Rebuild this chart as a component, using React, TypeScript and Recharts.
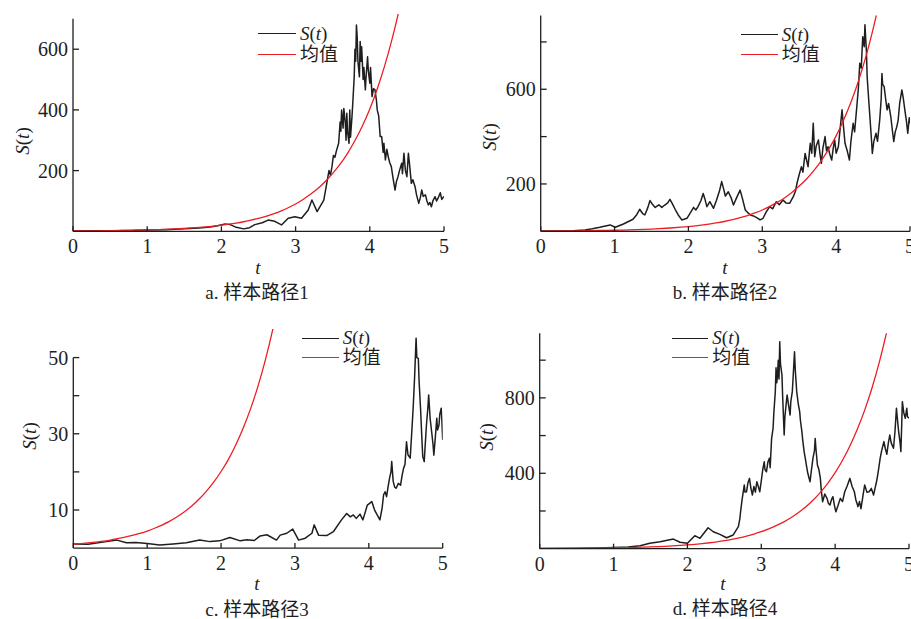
import { LineChart, Line, XAxis, YAxis, ReferenceLine } from 'recharts';

// mean E[S(t)] (same in all four panels)
const MEAN_T = [
  0, 0.1, 0.2, 0.3, 0.4, 0.5, 0.6, 0.7, 0.8, 0.9, 1.0, 1.1, 1.2, 1.3, 1.4, 1.5, 1.6, 1.7, 1.8, 1.9,
  2.0, 2.1, 2.2, 2.3, 2.4, 2.5, 2.6, 2.7, 2.8, 2.9, 3.0, 3.1, 3.2, 3.3, 3.4, 3.5, 3.6, 3.7, 3.8, 3.9,
  4.0, 4.1, 4.2, 4.3, 4.4, 4.5, 4.6, 4.7, 4.8,
];
const MEAN_S = [
  1.0, 1.16, 1.35, 1.57, 1.82, 2.12, 2.46, 2.86, 3.32, 3.86, 4.48, 5.21, 6.05, 7.03, 8.17, 9.49, 11.0, 12.8, 14.9, 17.3,
  20.1, 23.3, 27.1, 31.5, 36.6, 42.5, 49.4, 57.4, 66.7, 77.5, 90.0, 105, 122, 141, 164, 191, 221, 257, 299, 347,
  403, 469, 545, 633, 735, 854, 992, 1153, 1339,
];

// sample paths, [t, S(t)]
const PATH_1: [number, number][] = [
  [0, 1], [0.25, 1.5], [0.5, 2], [0.75, 3], [1.0, 4], [1.25, 5], [1.5, 8], [1.7, 11], [1.85, 14], [1.95, 18],
  [2.05, 24], [2.12, 22], [2.2, 13], [2.3, 8], [2.38, 12], [2.45, 22], [2.55, 28], [2.63, 37], [2.72, 33], [2.81, 21],
  [2.9, 43], [2.99, 48], [3.08, 43], [3.17, 70], [3.22, 103], [3.29, 65], [3.38, 103], [3.42, 158], [3.45, 200], [3.47, 185],
  [3.49, 213], [3.51, 250], [3.53, 244], [3.55, 265], [3.58, 290], [3.6, 360], [3.61, 330], [3.62, 400], [3.64, 340], [3.65, 405],
  [3.67, 356], [3.68, 300], [3.69, 389], [3.7, 330], [3.72, 290], [3.73, 400], [3.74, 310], [3.76, 378], [3.77, 420], [3.79, 509],
  [3.8, 600], [3.81, 560], [3.82, 680], [3.83, 640], [3.84, 560], [3.86, 509], [3.87, 625], [3.88, 560], [3.89, 608], [3.91, 500],
  [3.92, 540], [3.94, 466], [3.95, 510], [3.97, 575], [3.98, 530], [4.0, 488], [4.01, 540], [4.03, 444], [4.05, 470], [4.07, 466],
  [4.09, 430], [4.1, 400], [4.12, 380], [4.14, 312], [4.16, 312], [4.18, 260], [4.19, 290], [4.21, 235], [4.23, 270], [4.25, 244],
  [4.27, 225], [4.29, 213], [4.31, 180], [4.34, 136], [4.36, 165], [4.38, 180], [4.4, 200], [4.43, 224], [4.44, 190], [4.46, 257],
  [4.48, 200], [4.5, 180], [4.52, 257], [4.54, 210], [4.56, 158], [4.58, 170], [4.61, 147], [4.63, 120], [4.66, 92], [4.68, 110],
  [4.7, 136], [4.72, 115], [4.75, 120], [4.77, 100], [4.79, 87], [4.81, 95], [4.83, 81], [4.85, 100], [4.88, 114], [4.9, 100],
  [4.92, 109], [4.95, 127], [4.97, 105], [4.99, 112], [5.0, 115],
];

const PATH_2: [number, number][] = [
  [0, 1], [0.25, 1], [0.44, 2], [0.6, 6], [0.7, 11], [0.8, 17], [0.94, 27], [1.01, 17], [1.12, 31], [1.25, 51],
  [1.3, 70], [1.34, 93], [1.38, 75], [1.41, 69], [1.45, 100], [1.48, 130], [1.51, 115], [1.55, 101], [1.6, 112], [1.64, 101],
  [1.68, 111], [1.72, 120], [1.75, 135], [1.78, 118], [1.82, 93], [1.86, 70], [1.91, 48], [1.98, 55], [2.03, 80], [2.07, 101],
  [2.1, 90], [2.13, 104], [2.17, 130], [2.2, 160], [2.22, 140], [2.25, 104], [2.29, 125], [2.34, 97], [2.38, 131], [2.42, 170],
  [2.45, 210], [2.48, 175], [2.5, 149], [2.54, 167], [2.58, 140], [2.61, 111], [2.65, 140], [2.7, 174], [2.73, 140], [2.77, 90],
  [2.8, 80], [2.84, 69], [2.88, 65], [2.93, 57], [2.97, 48], [3.01, 55], [3.05, 80], [3.1, 104], [3.14, 95], [3.19, 125],
  [3.23, 112], [3.28, 132], [3.32, 120], [3.37, 118], [3.42, 146], [3.45, 170], [3.47, 203], [3.5, 240], [3.53, 273], [3.55, 250],
  [3.58, 329], [3.6, 300], [3.62, 273], [3.64, 340], [3.65, 372], [3.67, 330], [3.69, 456], [3.71, 315], [3.73, 360], [3.76, 386],
  [3.78, 330], [3.8, 287], [3.82, 350], [3.85, 400], [3.87, 340], [3.89, 357], [3.91, 330], [3.94, 301], [3.96, 350], [3.98, 386],
  [4.0, 330], [4.03, 357], [4.05, 420], [4.08, 513], [4.1, 440], [4.12, 372], [4.15, 340], [4.18, 301], [4.2, 380], [4.23, 456],
  [4.25, 420], [4.28, 527], [4.3, 600], [4.32, 710], [4.34, 690], [4.36, 822], [4.38, 780], [4.39, 872], [4.41, 760], [4.42, 653],
  [4.44, 560], [4.46, 470], [4.48, 380], [4.49, 329], [4.51, 380], [4.54, 414], [4.56, 380], [4.59, 470], [4.61, 560], [4.62, 667],
  [4.63, 620], [4.65, 611], [4.67, 560], [4.69, 513], [4.71, 540], [4.74, 484], [4.76, 430], [4.78, 379], [4.8, 420], [4.82, 440],
  [4.84, 470], [4.86, 540], [4.89, 597], [4.91, 560], [4.93, 513], [4.95, 470], [4.97, 414], [4.99, 480], [5.0, 456],
];

const PATH_3: [number, number][] = [
  [0, 1.1], [0.2, 1.0], [0.45, 1.7], [0.59, 2.1], [0.72, 1.4], [0.85, 1.5], [1.0, 1.2], [1.17, 0.8], [1.35, 1.1], [1.53, 1.4],
  [1.71, 2.1], [1.85, 1.7], [1.98, 1.9], [2.12, 2.8], [2.26, 1.9], [2.35, 2.2], [2.45, 2.0], [2.53, 3.2], [2.62, 3.5], [2.75, 2.1],
  [2.8, 3.4], [2.89, 3.9], [2.97, 5.0], [3.05, 2.1], [3.14, 2.6], [3.23, 3.9], [3.26, 6.1], [3.32, 3.4], [3.43, 3.3], [3.52, 4.3],
  [3.63, 7.4], [3.7, 9.1], [3.75, 8.2], [3.79, 8.7], [3.83, 7.8], [3.88, 8.9], [3.92, 7.4], [3.98, 11.3], [4.04, 12.2], [4.08, 9.9],
  [4.15, 7.4], [4.18, 10.5], [4.2, 14.0], [4.22, 14.8], [4.24, 13.5], [4.26, 16.0], [4.28, 18.3], [4.3, 20.0], [4.31, 22.7], [4.33, 17.5],
  [4.35, 16.0], [4.37, 15.7], [4.4, 17.0], [4.43, 16.5], [4.45, 19.0], [4.47, 20.9], [4.49, 22.0], [4.5, 25.0], [4.51, 27.9], [4.53, 24.5],
  [4.56, 23.6], [4.58, 30.0], [4.6, 36.7], [4.62, 45.0], [4.64, 55.1], [4.65, 50.0], [4.67, 49.8], [4.68, 44.0], [4.7, 36.7], [4.72, 28.0],
  [4.73, 24.0], [4.75, 22.7], [4.76, 26.0], [4.78, 32.3], [4.8, 37.0], [4.81, 40.2], [4.83, 34.0], [4.85, 30.6], [4.87, 27.0], [4.88, 24.4],
  [4.9, 29.0], [4.92, 34.1], [4.93, 31.0], [4.95, 32.3], [4.96, 35.0], [4.98, 36.7], [4.99, 33.0], [5.0, 28.4],
];

const PATH_4: [number, number][] = [
  [0, 1], [0.5, 2], [0.8, 4], [1.0, 6], [1.2, 9], [1.36, 16], [1.49, 29], [1.63, 37], [1.81, 51], [1.9, 34],
  [2.0, 29], [2.1, 69], [2.17, 55], [2.28, 111], [2.35, 90], [2.44, 76], [2.53, 58], [2.62, 73], [2.69, 117], [2.71, 160],
  [2.72, 196], [2.74, 260], [2.77, 338], [2.78, 300], [2.8, 302], [2.82, 350], [2.84, 373], [2.86, 320], [2.88, 285], [2.9, 330],
  [2.92, 300], [2.94, 355], [2.96, 330], [2.98, 302], [3.0, 360], [3.02, 420], [3.04, 461], [3.05, 420], [3.07, 408], [3.09, 460],
  [3.11, 480], [3.12, 430], [3.14, 585], [3.16, 640], [3.17, 720], [3.19, 833], [3.2, 960], [3.21, 880], [3.22, 921], [3.23, 1000],
  [3.24, 900], [3.25, 1098], [3.26, 980], [3.28, 921], [3.29, 800], [3.31, 603], [3.32, 700], [3.34, 780], [3.35, 815], [3.37, 760],
  [3.39, 709], [3.4, 780], [3.42, 833], [3.43, 900], [3.45, 1045], [3.46, 950], [3.48, 833], [3.5, 770], [3.52, 727], [3.53, 680],
  [3.55, 621], [3.56, 580], [3.58, 515], [3.6, 470], [3.61, 444], [3.63, 400], [3.66, 355], [3.68, 420], [3.7, 480], [3.72, 520],
  [3.73, 585], [3.74, 530], [3.76, 444], [3.78, 420], [3.8, 373], [3.81, 320], [3.83, 249], [3.86, 290], [3.89, 267], [3.91, 240],
  [3.93, 232], [3.95, 260], [3.97, 276], [3.99, 230], [4.01, 196], [4.04, 230], [4.07, 267], [4.1, 250], [4.13, 302], [4.16, 330],
  [4.2, 373], [4.23, 330], [4.26, 302], [4.28, 260], [4.31, 223], [4.33, 250], [4.35, 212], [4.38, 290], [4.4, 338], [4.43, 300],
  [4.46, 302], [4.49, 320], [4.52, 285], [4.54, 320], [4.56, 355], [4.58, 400], [4.61, 480], [4.63, 520], [4.66, 568], [4.68, 530],
  [4.7, 501], [4.72, 560], [4.74, 603], [4.76, 560], [4.79, 533], [4.81, 620], [4.83, 745], [4.84, 700], [4.86, 621], [4.88, 560],
  [4.89, 515], [4.9, 640], [4.91, 780], [4.93, 720], [4.95, 692], [4.97, 745], [4.98, 700], [5.0, 692],
];

const X_TICKS = [0, 1, 2, 3, 4, 5];

const INK = '#1e1e1e';
const RED = '#ee1d23';
const SERIF = '"Liberation Serif", "Times New Roman", "Noto Sans CJK SC", serif';
const AXIS_W = 1.3;

type Pt = { t: number; s: number };
const toPts = (pairs: [number, number][]): Pt[] => pairs.map(([t, s]) => ({ t, s }));
const meanPts: Pt[] = MEAN_T.map((t, i) => ({ t, s: MEAN_S[i] }));

type PanelSpec = {
  key: string;
  box: { left: number; top: number; width: number; height: number };
  plot: { x0: number; x1: number; yTop: number; yBottom: number };
  yMax: number;
  axisTop: number;
  yTicks: number[];
  yLabels: number[];
  path: Pt[];
  legend: { lineX: number; textX: number; y1: number; y2: number };
  yTitle: { x: number; y: number };
  xTitle: { x: number; y: number };
  caption: { x: number; y: number; text: string };
};

const PANELS: PanelSpec[] = [
  {
    key: 'a',
    box: { left: 0, top: 0, width: 455, height: 300 },
    plot: { x0: 73, x1: 444, yTop: 14, yBottom: 231.3 },
    yMax: 716,
    axisTop: 700,
    yTicks: [200, 400, 600],
    yLabels: [200, 400, 600],
    path: toPts(PATH_1),
    legend: { lineX: 258, textX: 300, y1: 34, y2: 55 },
    yTitle: { x: 22, y: 141 },
    xTitle: { x: 258, y: 267 },
    caption: { x: 257, y: 292, text: 'a. 样本路径1' },
  },
  {
    key: 'b',
    box: { left: 455, top: 0, width: 456, height: 300 },
    plot: { x0: 540.7, x1: 910, yTop: 15.4, yBottom: 231.3 },
    yMax: 912,
    axisTop: 912,
    yTicks: [200, 400, 600, 800],
    yLabels: [200, 600],
    path: toPts(PATH_2),
    legend: { lineX: 740.7, textX: 781.7, y1: 35, y2: 55 },
    yTitle: { x: 489, y: 137 },
    xTitle: { x: 725, y: 267 },
    caption: { x: 725, y: 292, text: 'b. 样本路径2' },
  },
  {
    key: 'c',
    box: { left: 0, top: 310, width: 455, height: 300 },
    plot: { x0: 73.3, x1: 442.7, yTop: 329, yBottom: 548.1 },
    yMax: 57.5,
    axisTop: 50,
    yTicks: [10, 20, 30, 40, 50],
    yLabels: [10, 30, 50],
    path: toPts(PATH_3),
    legend: { lineX: 301.7, textX: 342.7, y1: 338.3, y2: 357.7 },
    yTitle: { x: 29, y: 436 },
    xTitle: { x: 257, y: 583 },
    caption: { x: 257, y: 609, text: 'c. 样本路径3' },
  },
  {
    key: 'd',
    box: { left: 455, top: 310, width: 456, height: 300 },
    plot: { x0: 539.7, x1: 909, yTop: 333.2, yBottom: 548.7 },
    yMax: 1143,
    axisTop: 1143,
    yTicks: [200, 400, 600, 800, 1000],
    yLabels: [400, 800],
    path: toPts(PATH_4),
    legend: { lineX: 671.7, textX: 712.3, y1: 338.3, y2: 357.7 },
    yTitle: { x: 486, y: 437 },
    xTitle: { x: 723, y: 583 },
    caption: { x: 725, y: 608, text: 'd. 样本路径4' },
  },
];

const makeYTick = (labels: number[]) => (props: any) => {
  const { x, y, payload } = props;
  return (
    <g>
      <line x1={x} x2={x + 6} y1={y} y2={y} stroke={INK} strokeWidth={AXIS_W} />
      {labels.includes(payload.value) && (
        <text x={x - 5} y={y} dy="0.35em" textAnchor="end" fontSize={20} fontFamily={SERIF} fill={INK}>
          {payload.value}
        </text>
      )}
    </g>
  );
};

const XTick = (props: any) => {
  const { x, y, payload } = props;
  return (
    <g>
      <line x1={x} x2={x} y1={y} y2={y - 5} stroke={INK} strokeWidth={AXIS_W} />
      <text x={x} y={y + 22} textAnchor="middle" fontSize={20} fontFamily={SERIF} fill={INK}>
        {payload.value}
      </text>
    </g>
  );
};

const St = () => (
  <span>
    <i>S</i>(<i>t</i>)
  </span>
);

function Panel({ p }: { p: PanelSpec }) {
  const { box, plot } = p;
  const yAxisWidth = plot.x0 - box.left;
  const margin = {
    top: plot.yTop - box.top,
    right: box.left + box.width - plot.x1,
    bottom: box.top + box.height - plot.yBottom - 30,
    left: 0,
  };
  const centered = (x: number, y: number, extra: any = {}) => ({
    position: 'absolute' as const,
    left: x,
    top: y,
    transform: 'translate(-50%, -50%)',
    whiteSpace: 'nowrap' as const,
    fontFamily: SERIF,
    color: INK,
    lineHeight: 1,
    ...extra,
  });
  const legendRow = (y: number, color: string, label: any) => (
    <>
      <div
        style={{
          position: 'absolute',
          left: p.legend.lineX,
          top: y - 0.65,
          width: p.legend.textX - p.legend.lineX - 4,
          borderTop: `1.3px solid ${color}`,
        }}
      />
      <div
        style={{
          position: 'absolute',
          left: p.legend.textX,
          top: y - 9,
          height: 18,
          lineHeight: '18px',
          fontSize: 19,
          fontFamily: SERIF,
          color: INK,
          whiteSpace: 'nowrap',
        }}
      >
        {label}
      </div>
    </>
  );

  return (
    <>
      <div style={{ position: 'absolute', left: box.left, top: box.top }}>
        <LineChart width={box.width} height={box.height} margin={margin}>
          <XAxis
            type="number"
            dataKey="t"
            domain={[0, 5]}
            ticks={X_TICKS}
            interval={0}
            height={30}
            tickLine={false}
            tickSize={0}
            tickMargin={0}
            tick={XTick}
            axisLine={{ stroke: INK, strokeWidth: AXIS_W }}
            allowDataOverflow
          />
          <YAxis
            type="number"
            dataKey="s"
            domain={[0, p.yMax]}
            ticks={p.yTicks}
            interval={0}
            width={yAxisWidth}
            tickLine={false}
            tickSize={0}
            tickMargin={0}
            tick={makeYTick(p.yLabels)}
            axisLine={false}
            allowDataOverflow
          />
          <ReferenceLine
            segment={[
              { x: 0, y: 0 },
              { x: 0, y: p.axisTop },
            ]}
            stroke={INK}
            strokeWidth={AXIS_W}
          />
          <Line
            data={p.path}
            dataKey="s"
            type="linear"
            stroke={INK}
            strokeWidth={1.5}
            strokeLinejoin="round"
            dot={false}
            isAnimationActive={false}
          />
          <Line
            data={meanPts}
            dataKey="s"
            type="monotone"
            stroke={RED}
            strokeWidth={1.3}
            dot={false}
            isAnimationActive={false}
          />
        </LineChart>
      </div>

      {legendRow(p.legend.y1, INK, <St />)}
      {legendRow(p.legend.y2, RED, '均值')}

      <div style={centered(p.yTitle.x, p.yTitle.y, { fontSize: 19, transform: 'translate(-50%, -50%) rotate(-90deg)' })}>
        <St />
      </div>
      <div style={centered(p.xTitle.x, p.xTitle.y, { fontSize: 19, fontStyle: 'italic' })}>t</div>
      <div style={centered(p.caption.x, p.caption.y, { fontSize: 19 })}>{p.caption.text}</div>
    </>
  );
}

export default function App() {
  return (
    <div
      style={{
        position: 'absolute',
        left: 0,
        top: 0,
        width: 911,
        height: 619,
        background: '#fff',
        overflow: 'hidden',
      }}
    >
      {PANELS.map((p) => (
        <Panel key={p.key} p={p} />
      ))}
    </div>
  );
}
